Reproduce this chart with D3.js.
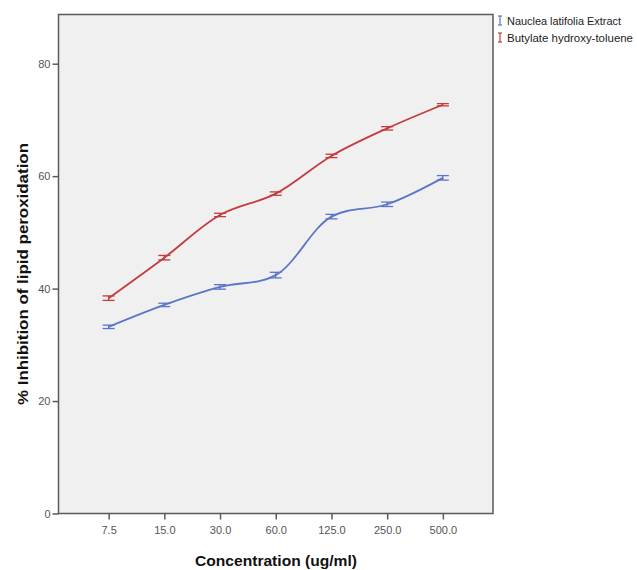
<!DOCTYPE html>
<html><head><meta charset="utf-8">
<script src="https://cdn.jsdelivr.net/npm/d3@7"></script>
<style>body{margin:0;background:#fff}svg{display:block}</style>
</head><body>
<svg id="c" width="637" height="570"></svg>
<script>
const categories = ["7.5","15.0","30.0","60.0","125.0","250.0","500.0"];
const naucleaValues = [33.2, 37.1, 40.3, 42.4, 52.8, 55.0, 59.7];
const naucleaErr    = [0.3, 0.3, 0.4, 0.5, 0.4, 0.4, 0.4];
const bhtValues     = [38.3, 45.5, 53.1, 56.9, 63.6, 68.5, 72.7];
const bhtErr        = [0.4, 0.4, 0.3, 0.3, 0.3, 0.3, 0.2];
const yTicks = [0, 20, 40, 60, 80];
const seriesNames = ["Nauclea latifolia Extract", "Butylate hydroxy-toluene"];
const seriesColors = ["#5a76c8", "#c43c3c"];

const svg = d3.select("#c");
const L = 58.5, R = 493, T = 14.5, B = 513.5;
const x = d3.scalePoint().domain(categories).range([L, R]).padding(0.9);
const y = d3.scaleLinear().domain([0, 88.75]).range([B, T]);

svg.append("rect").attr("x", L).attr("y", T).attr("width", R - L).attr("height", B - T)
  .attr("fill", "#f0f0f0").attr("stroke", "#5a5a5a").attr("stroke-width", 1.5);

const yAx = svg.append("g").attr("transform", `translate(${L},0)`)
  .call(d3.axisLeft(y).tickValues(yTicks).tickSize(6).tickPadding(2));
const xAx = svg.append("g").attr("transform", `translate(0,${B})`)
  .call(d3.axisBottom(x).tickSize(6).tickPadding(7));
[yAx, xAx].forEach(a => {
  a.select(".domain").remove();
  a.selectAll("line").attr("stroke", "#5a5a5a").attr("stroke-width", 1.5);
  a.selectAll("text").attr("fill", "#555").style("font-family", "Liberation Sans, Arial, sans-serif").style("font-size", "11px");
});

const series = [
  {vals: naucleaValues, err: naucleaErr, color: seriesColors[0]},
  {vals: bhtValues, err: bhtErr, color: seriesColors[1]}
];
const line = d3.line().x((d, i) => x(categories[i])).y(d => y(d)).curve(d3.curveCatmullRom.alpha(0.5));
series.forEach(s => {
  svg.append("path").attr("d", line(s.vals)).attr("fill", "none")
    .attr("stroke", s.color).attr("stroke-width", 1.8);
  const g = svg.append("g").attr("stroke", s.color).attr("stroke-width", 1.3);
  s.vals.forEach((v, i) => {
    const cx = x(categories[i]);
    const y1 = y(v + s.err[i]), y2 = y(v - s.err[i]);
    g.append("line").attr("x1", cx).attr("x2", cx).attr("y1", y1).attr("y2", y2);
    g.append("line").attr("x1", cx - 6).attr("x2", cx + 6).attr("y1", y1).attr("y2", y1);
    g.append("line").attr("x1", cx - 6).attr("x2", cx + 6).attr("y1", y2).attr("y2", y2);
  });
});

// legend
seriesNames.forEach((n, i) => {
  const gy = 21 + i * 17;
  const g = svg.append("g").attr("stroke", seriesColors[i]).attr("stroke-width", 1.2);
  g.append("line").attr("x1", 500).attr("x2", 500).attr("y1", gy - 5).attr("y2", gy + 4);
  g.append("line").attr("x1", 498).attr("x2", 502).attr("y1", gy - 5).attr("y2", gy - 5);
  g.append("line").attr("x1", 498).attr("x2", 502).attr("y1", gy + 4).attr("y2", gy + 4);
  svg.append("text").attr("x", 507).attr("y", gy + 4).text(n)
    .attr("fill", "#222").style("font-family", "Liberation Sans, Arial, sans-serif")
    .style("font-size", "10.5px").attr("textLength", i === 0 ? 114 : 126).attr("lengthAdjust", "spacingAndGlyphs");
});

svg.append("text").attr("x", 276).attr("y", 566).attr("text-anchor", "middle")
  .style("font-family", "Liberation Sans, Arial, sans-serif").style("font-weight", "bold").style("font-size", "15px")
  .attr("textLength", 162).attr("lengthAdjust", "spacingAndGlyphs")
  .attr("fill", "#111").text("Concentration (ug/ml)");
svg.append("text").attr("transform", "translate(28,274) rotate(-90)").attr("text-anchor", "middle")
  .style("font-family", "Liberation Sans, Arial, sans-serif").style("font-weight", "bold").style("font-size", "15px")
  .attr("textLength", 262).attr("lengthAdjust", "spacingAndGlyphs")
  .attr("fill", "#111").text("% Inhibition of lipid peroxidation");
</script>
</body></html>
